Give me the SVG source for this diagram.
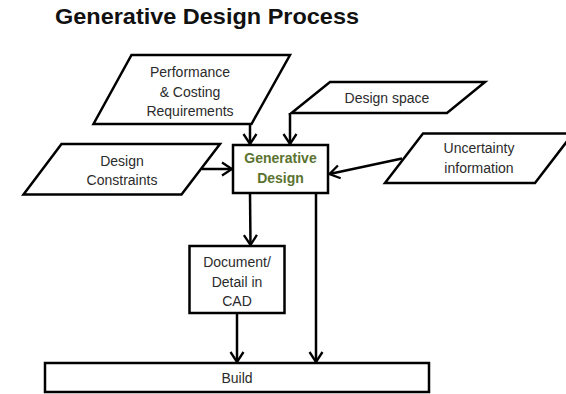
<svg xmlns="http://www.w3.org/2000/svg" width="566" height="394" viewBox="0 0 566 394">
<style>
.shape{fill:#fff;stroke:#000;stroke-width:2.5;stroke-linejoin:miter}
.lbl{font-family:"Liberation Sans",Arial,sans-serif;font-size:14px;fill:#2b2b2b;text-anchor:middle}
.gen{font-family:"Liberation Sans",Arial,sans-serif;font-size:14px;font-weight:bold;fill:#5b7330;text-anchor:middle}
.title{font-family:"Liberation Sans",Arial,sans-serif;font-size:22px;font-weight:bold;fill:#111}
.conn{fill:none;stroke:#000;stroke-width:2.5}
</style>
<defs>
<marker id="arr" viewBox="0 0 14 16" markerWidth="14" markerHeight="16" refX="12" refY="8" orient="auto" markerUnits="userSpaceOnUse">
<path d="M2,1.5 L12,8 L2,14.5" fill="none" stroke="#000" stroke-width="2.3"/>
</marker>
</defs>
<rect width="566" height="394" fill="#fff"/>
<text class="title" x="55" y="24" textLength="304" lengthAdjust="spacingAndGlyphs">Generative Design Process</text>

<g id="performance">
<polygon class="shape" points="131.5,55 290,55 251.5,124 93.5,124"/>
<text class="lbl" x="190" y="77">Performance</text>
<text class="lbl" x="190" y="96.5">&amp; Costing</text>
<text class="lbl" x="190" y="116">Requirements</text>
</g>
<g id="design-space">
<polygon class="shape" points="330,82 485,82 447,113 291.5,113"/>
<text class="lbl" x="387" y="103">Design space</text>
</g>
<g id="design-constraints">
<polygon class="shape" points="61.5,144 220,144 181.5,194.5 23.5,194.5"/>
<text class="lbl" x="122" y="166">Design</text>
<text class="lbl" x="122" y="185">Constraints</text>
</g>
<g id="uncertainty">
<polygon class="shape" points="423,133.5 573,133.5 535,183 385,183"/>
<text class="lbl" x="479" y="153">Uncertainty</text>
<text class="lbl" x="479" y="172.5">information</text>
</g>
<g id="generative-design">
<rect class="shape" x="233" y="145" width="95" height="48"/>
<text class="gen" x="280.5" y="163">Generative</text>
<text class="gen" x="280.5" y="183">Design</text>
</g>
<g id="document">
<rect class="shape" x="189.5" y="246" width="95" height="67"/>
<text class="lbl" x="237" y="267">Document/</text>
<text class="lbl" x="237" y="286.5">Detail in</text>
<text class="lbl" x="237" y="305.5">CAD</text>
</g>
<g id="build">
<rect class="shape" x="45" y="363" width="384" height="29"/>
<text class="lbl" x="237" y="383">Build</text>
</g>

<g id="connectors">
<line class="conn" x1="250" y1="124" x2="250" y2="144" marker-end="url(#arr)"/>
<line class="conn" x1="290" y1="113" x2="290" y2="144" marker-end="url(#arr)"/>
<line class="conn" x1="202" y1="169" x2="232" y2="169" marker-end="url(#arr)"/>
<line class="conn" x1="402" y1="158.5" x2="329.5" y2="174" marker-end="url(#arr)"/>
<line class="conn" x1="250" y1="193" x2="250.5" y2="245" marker-end="url(#arr)"/>
<line class="conn" x1="316" y1="193" x2="316" y2="362" marker-end="url(#arr)"/>
<line class="conn" x1="237" y1="313" x2="237" y2="362" marker-end="url(#arr)"/>
</g>
</svg>
